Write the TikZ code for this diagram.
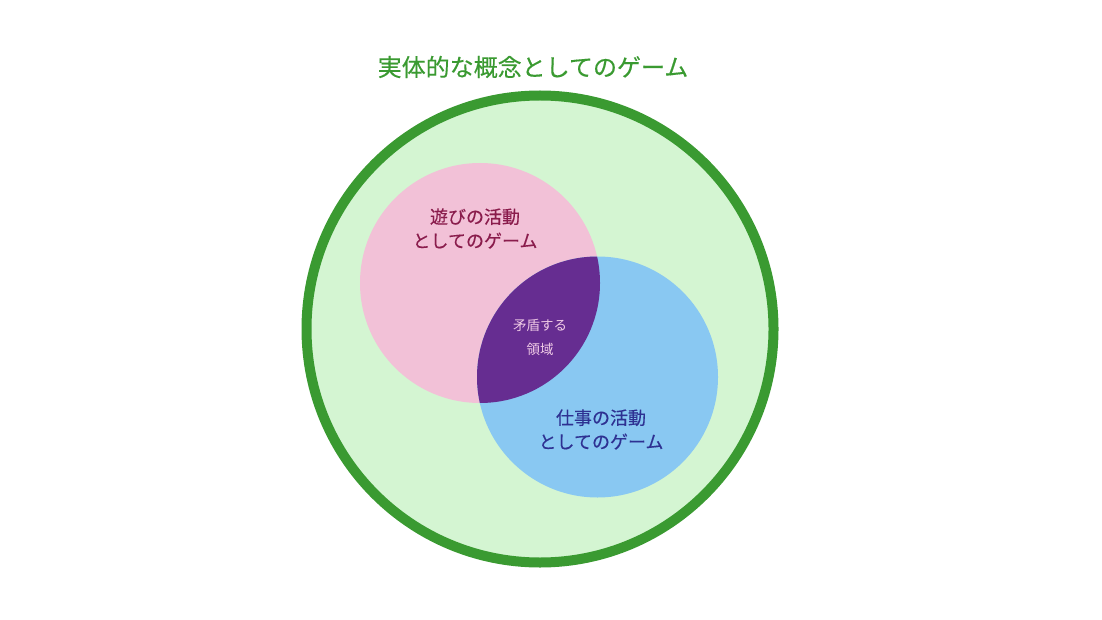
\documentclass[tikz,border=0pt]{standalone}
\usepackage{fontspec}
\newfontfamily\jpfont{Noto Sans CJK JP}
\newfontfamily\jpmed[FakeBold=0.35]{Noto Sans CJK JP}
\definecolor{gframe}{HTML}{3A9A31}
\definecolor{gfill}{HTML}{D4F5D2}
\definecolor{pinkfill}{HTML}{F2C1D7}
\definecolor{bluefill}{HTML}{89C8F2}
\definecolor{purplefill}{HTML}{662D91}
\definecolor{pinktext}{HTML}{8A1C4C}
\definecolor{bluetext}{HTML}{2E3192}
\definecolor{midtext}{HTML}{F0CBE6}
\tikzset{
  setcircle/.style={circle, inner sep=0pt, minimum size=#1},
  lbl/.style={align=center, inner sep=0pt, font=\jpmed\fontsize{18}{24}\selectfont},
}
\begin{document}
\begin{tikzpicture}[x=1pt,y=-1pt]
\useasboundingbox (0,0) rectangle (1102,620);
\node[setcircle=467pt, fill=gfill, draw=gframe, line width=10pt] (whole) at (540,329) {};
\node[setcircle=240pt, fill=pinkfill] (play) at (480,283) {};
\node[setcircle=241pt, fill=bluefill] (work) at (597.5,377) {};
\begin{scope}
  \clip (play.center) circle (120pt);
  \fill[purplefill] (work.center) circle (120.5pt);
\end{scope}
\node[font=\jpmed\fontsize{24}{28}\selectfont, text=gframe, inner sep=0pt] (title) at (533,67) {実体的な概念としてのゲーム};
\node[lbl, text=pinktext] (playlbl) at (475,228.5) {遊びの活動\\としてのゲーム};
\node[lbl, text=bluetext] (worklbl) at (601,429.5) {仕事の活動\\としてのゲーム};
\node[align=center, inner sep=0pt, text=midtext, font=\jpfont\fontsize{13.5}{24}\selectfont] (conflict) at (540,337) {矛盾する\\領域};
\end{tikzpicture}
\end{document}
